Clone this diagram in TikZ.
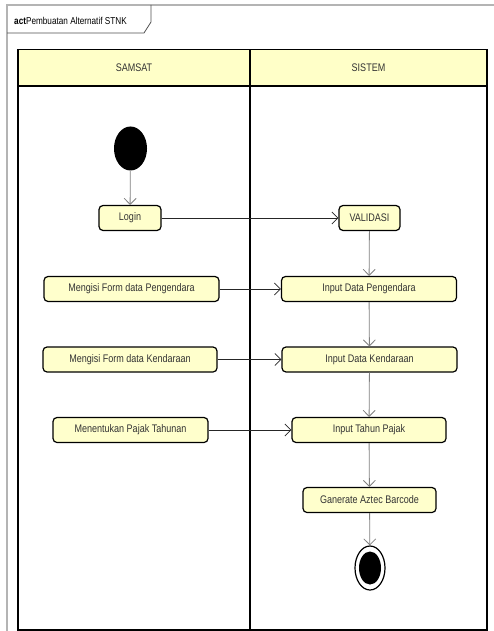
\documentclass[tikz,border=0pt]{standalone}
\usepackage{fontspec}
\setmainfont{Liberation Sans}[FakeStretch=0.82]
\usetikzlibrary{arrows.meta,shapes.geometric}
\definecolor{actfill}{HTML}{FFFFCC}
\definecolor{headfill}{HTML}{FFFFC8}
\definecolor{framegray}{HTML}{B4B4B4}
\definecolor{tabgray}{HTML}{505050}
\definecolor{flowgray}{HTML}{808080}
\definecolor{txt}{HTML}{333333}
\tikzset{
  action/.style={draw=black, line width=1.2pt, fill=actfill, rounded corners=4pt,
    minimum height=25pt, inner sep=0pt, text=txt, font=\fontsize{11}{13}\selectfont},
  lanehead/.style={text=txt, font=\fontsize{11}{13}\selectfont, inner sep=0pt},
  barb/.style={-{Straight Barb[length=6pt,width=12pt]}},
  hflow/.style={barb, draw=black!85, line width=0.8pt},
  vflow/.style={barb, draw=flowgray, line width=0.8pt},
}
\begin{document}
\begin{tikzpicture}[x=1pt,y=-1pt]
\useasboundingbox (0,0) rectangle (494,631);
\fill[white] (0,0) rectangle (494,631);

% diagram frame with its name tab
\draw[framegray, line width=1.4pt] (7,631) -- (7,5) -- (494,5);
\draw[tabgray, line width=0.8pt] (7,33) -- (144,33) -- (151,22) -- (151,5);
\node[anchor=west, inner sep=0pt, text=black, font=\fontsize{10}{12}\selectfont] (title) at (14,21)
  {\textbf{act}Pembuatan Alternatif STNK};

% swimlanes
\fill[headfill] (18,49.5) rectangle (487,86);
\draw[line width=1.3pt] (18,49.5) rectangle (487,630);
\draw[line width=1.3pt] (18,86) -- (487,86);
\draw[line width=1.3pt] (250,49.5) -- (250,630);
\node[lanehead] (samsat) at (134,68) {SAMSAT};
\node[lanehead] (sistem) at (368.5,68) {SISTEM};

% initial and final nodes
\node[ellipse, fill=black, minimum width=33pt, minimum height=44pt, inner sep=0pt] (start) at (130.5,148.5) {};
\node[ellipse, draw=black, line width=1.2pt, fill=white, minimum width=30pt, minimum height=44pt, inner sep=0pt] (end) at (370,568) {};
\node[ellipse, fill=black, minimum width=22pt, minimum height=33pt, inner sep=0pt] (endin) at (370,568) {};

% SAMSAT actions
\node[action, minimum width=62pt] (login) at (130,218) {Login};
\node[action, minimum width=175pt] (formP) at (131.5,289) {Mengisi Form data Pengendara};
\node[action, minimum width=174pt] (formK) at (130,359.5) {Mengisi Form data Kendaraan};
\node[action, minimum width=155pt] (pajak) at (130.5,430) {Menentukan Pajak Tahunan};

% SISTEM actions
\node[action, minimum width=61pt] (valid) at (369.5,218) {VALIDASI};
\node[action, minimum width=175pt] (inP) at (369,289) {Input Data Pengendara};
\node[action, minimum width=175pt] (inK) at (369.5,359.5) {Input Data Kendaraan};
\node[action, minimum width=154pt] (inT) at (369,430) {Input Tahun Pajak};
\node[action, minimum width=133pt] (gen) at (369.5,500) {Ganerate Aztec Barcode};

% control flows
\draw[vflow] (start) -- (login);
\draw[hflow] (login) -- (valid);
\draw[hflow] (formP) -- (inP);
\draw[hflow] (formK) -- (inK);
\draw[hflow] (pajak) -- (inT);
\draw[vflow] (valid) -- (inP);
\draw[vflow] (inP) -- (inK);
\draw[vflow] (inK) -- (inT);
\draw[vflow] (inT) -- (gen);
\draw[vflow] (gen) -- (end);
\end{tikzpicture}
\end{document}
